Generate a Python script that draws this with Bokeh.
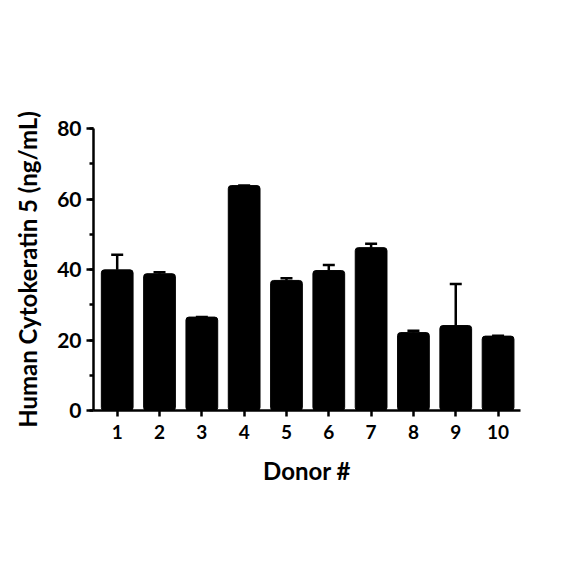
from bokeh.plotting import figure
from bokeh.models import Range1d, FixedTicker, SingleIntervalTicker, Whisker, TeeHead, ColumnDataSource
from bokeh.embed import file_html
from bokeh.resources import INLINE

donors = [1, 2, 3, 4, 5, 6, 7, 8, 9, 10]
tick_labels = ["1", "2", "3", "4", "5", "6", "7", "8", "9", "10"]
means = [39.9, 38.8, 26.5, 63.8, 36.9, 39.7, 46.2, 22.1, 24.1, 21.1]
errs = [4.3, 0.4, 0.0, 0.0, 0.6, 1.6, 1.1, 0.5, 11.8, 0.1]

upper = [m + e for m, e in zip(means, errs)]
src = ColumnDataSource(dict(x=donors, top=means, upper=upper))

FONT = "Lato"

p = figure(width=568, height=568, output_backend="svg", toolbar_location=None,
           x_range=Range1d(0.44, 10.53), y_range=Range1d(0, 80),
           min_border_left=93, min_border_right=48, min_border_top=128, min_border_bottom=158)
p.outline_line_color = None
p.grid.visible = False
p.background_fill_color = "white"

w = Whisker(source=src, base="x", lower="top", upper="upper",
            line_color="black", line_width=2.5,
            upper_head=TeeHead(size=12, line_color="black", line_width=2.5),
            lower_head=None)
p.add_layout(w)

p.vbar(x="x", top="top", width=0.75, bottom=0, source=src, fill_color="black",
       line_color="black", border_radius=3)

p.xaxis.ticker = FixedTicker(ticks=donors)
p.xaxis.major_label_overrides = {d: t for d, t in zip(donors, tick_labels)}
p.yaxis.ticker = SingleIntervalTicker(interval=20, num_minor_ticks=2)

for ax in (p.xaxis[0], p.yaxis[0]):
    ax.axis_line_width = 2.5
    ax.axis_line_color = "black"
    ax.major_tick_line_width = 2.5
    ax.minor_tick_line_width = 2.5
    ax.major_tick_in = 0
    ax.minor_tick_in = 0
    ax.major_label_text_font = FONT
    ax.major_label_text_font_style = "bold"
    ax.major_label_text_color = "black"
    ax.axis_label_text_font = FONT
    ax.axis_label_text_font_style = "bold"
    ax.axis_label_text_color = "black"

p.xaxis.major_tick_out = 6
p.xaxis.minor_tick_line_color = None
p.yaxis.major_tick_out = 7
p.yaxis.minor_tick_out = 4
p.xaxis.major_label_text_font_size = "19px"
p.yaxis.major_label_text_font_size = "21px"
p.xaxis.axis_label = "Donor #"
p.yaxis.axis_label = "Human Cytokeratin 5 (ng/mL)"
p.xaxis.axis_label_text_font_size = "24px"
p.yaxis.axis_label_text_font_size = "24px"
p.xaxis.axis_label_standoff = 14
p.yaxis.axis_label_standoff = 12
p.xaxis.major_label_standoff = 8
p.yaxis.major_label_standoff = 5

open("out.html", "w").write(file_html(p, INLINE))
